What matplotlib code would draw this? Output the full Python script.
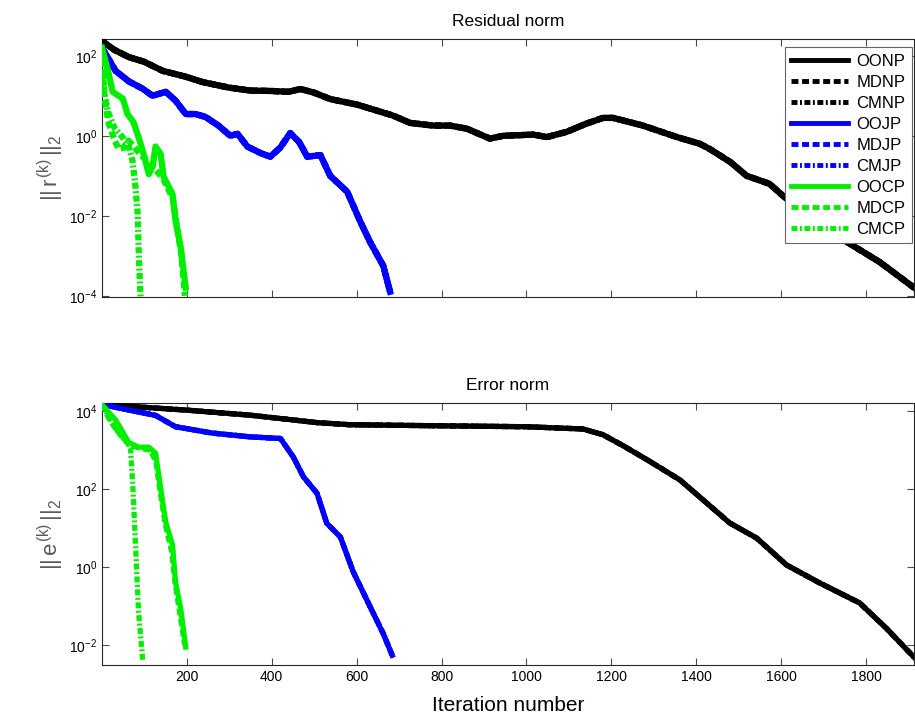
import matplotlib
matplotlib.use("Agg")
from matplotlib import pyplot as plt
from matplotlib.ticker import NullLocator, FixedLocator

plt.rcParams["font.family"] = ["Liberation Sans", "DejaVu Sans"]
plt.rcParams["mathtext.fontset"] = "custom"
plt.rcParams["mathtext.rm"] = "Liberation Sans"
plt.rcParams["mathtext.it"] = "Liberation Sans"
plt.rcParams["lines.scale_dashes"] = False

# Residual norm curves (iteration, value)
res_nn_it = [1, 30, 64, 100, 144, 198, 238, 300, 350, 400, 440, 468, 500, 538,
             602, 686, 726, 780, 820, 860, 914, 945, 1016, 1048, 1095, 1140,
             1180, 1204, 1274, 1354, 1408, 1431, 1480, 1518, 1572, 1603, 1650,
             1700, 1768, 1831, 1912]
res_nn = [234, 141, 93, 71, 42, 30, 22, 16, 13.5, 13.2, 12.6, 14.8, 12, 8.3,
          6.0, 3.2, 2.1, 1.8, 1.8, 1.5, 0.85, 1.0, 1.07, 0.93, 1.26, 2.0,
          2.8, 2.8, 1.8, 0.93, 0.63, 0.47, 0.22, 0.1, 0.063, 0.032, 0.0126,
          0.005, 1.8e-3, 7e-4, 1.6e-4]

res_jp_it = [1, 15, 33, 64, 97, 120, 151, 174, 198, 221, 245, 275, 303, 320,
             343, 374, 397, 420, 444, 465, 484, 515, 538, 578, 609, 632, 663,
             679]
res_jp = [158, 89, 42, 23, 15, 10, 12.6, 7.6, 3.5, 3.5, 2.95, 1.8, 1.0, 1.12,
          0.54, 0.37, 0.3, 0.5, 1.17, 0.7, 0.3, 0.33, 0.1, 0.04, 7.1e-3,
          2.2e-3, 5.6e-4, 1.26e-4]

res_oocp_it = [1, 17, 26, 50, 61, 75, 87, 99, 111, 120, 127, 139, 146, 167,
               174, 186, 198]
res_oocp = [158, 35, 12.6, 8.5, 3.5, 2.2, 0.93, 0.35, 0.11, 0.17, 0.54, 0.35,
            0.095, 0.035, 7.6e-3, 1.7e-3, 1.6e-4]

res_mdcp_it = [1, 5, 8, 17, 30, 40, 52, 63, 75, 90, 120, 146, 167, 178, 188,
               196]
res_mdcp = [158, 16, 7.1, 2.0, 0.8, 0.47, 0.5, 0.76, 0.56, 0.35, 0.18, 0.08,
            0.028, 5e-3, 1e-3, 1e-4]

res_cmcp_it = [1, 6, 15, 30, 50, 65, 73, 80, 85, 88, 92]
res_cmcp = [158, 12.6, 4.0, 1.6, 0.9, 0.5, 0.23, 0.05, 0.011, 7.9e-4, 8e-5]

# Error norm curves (iteration, value)
err_nn_it = [1, 198, 350, 449, 507, 585, 820, 1000, 1133, 1180, 1230, 1290,
             1361, 1408, 1478, 1542, 1612, 1690, 1784, 1847, 1912]
err_nn = [1.48e4, 1.07e4, 7.9e3, 6.0e3, 5.1e3, 4.5e3, 4.2e3, 4.0e3, 3.5e3,
          2.5e3, 1.26e3, 520, 174, 63, 13.8, 5.6, 1.15, 0.4, 0.123, 0.0275,
          5e-3]

err_jp_it = [1, 127, 174, 261, 350, 421, 451, 475, 507, 530, 562, 592, 632,
             663, 684]
err_jp = [1.48e4, 7.8e3, 4.0e3, 2.75e3, 2.2e3, 2.0e3, 676, 209, 79, 13.5, 6.0,
          0.78, 0.098, 0.02, 5.6e-3]

err_oocp_it = [1, 33, 50, 64, 87, 111, 127, 139, 151, 167, 174, 186, 198]
err_oocp = [1.48e4, 6.0e3, 2.9e3, 1.58e3, 1.2e3, 1.2e3, 850, 107, 14.5, 3.7,
            0.42, 0.091, 9.1e-3]

err_mdcp_it = [1, 20, 40, 64, 90, 115, 128, 137, 150, 165, 173, 183, 196]
err_mdcp = [1.48e4, 5.6e3, 2.8e3, 1.4e3, 1.12e3, 1.0e3, 500, 100, 12.6, 2.5,
            0.4, 0.079, 0.01]

err_cmcp_it = [1, 20, 40, 60, 68, 73, 80, 87, 97]
err_cmcp = [1.48e4, 6.3e3, 2.8e3, 1.58e3, 1.17e3, 155, 3.7, 0.072, 4e-3]

labels = ["OONP", "MDNP", "CMNP", "OOJP", "MDJP", "CMJP", "OOCP", "MDCP", "CMCP"]
colors = ["k", "k", "k", "b", "b", "b", "#00ee00", "#00ee00", "#00ee00"]
dashed = (0, (5, 2.6))
dashdot = (0, (4.3, 1.8, 1.4, 1.8))
styles = ["-", dashed, dashdot] * 3

fig = plt.figure(figsize=(9.15, 7.21), dpi=100)
ax1 = fig.add_axes([102 / 915, 1 - 297 / 721, 812 / 915, 258 / 721])
ax2 = fig.add_axes([102 / 915, 1 - 665 / 721, 812 / 915, 262 / 721])

top_series = [(res_nn_it, res_nn), (res_nn_it, res_nn), (res_nn_it, res_nn),
              (res_jp_it, res_jp), (res_jp_it, res_jp), (res_jp_it, res_jp),
              (res_oocp_it, res_oocp), (res_mdcp_it, res_mdcp),
              (res_cmcp_it, res_cmcp)]
bot_series = [(err_nn_it, err_nn), (err_nn_it, err_nn), (err_nn_it, err_nn),
              (err_jp_it, err_jp), (err_jp_it, err_jp), (err_jp_it, err_jp),
              (err_oocp_it, err_oocp), (err_mdcp_it, err_mdcp),
              (err_cmcp_it, err_cmcp)]

for i, (x, y) in enumerate(top_series):
    ax1.semilogy(x, y, color=colors[i], linestyle=styles[i], lw=4.5,
                 label=labels[i], zorder=3 - (i % 3) * 0.1)
for i, (x, y) in enumerate(bot_series):
    ax2.semilogy(x, y, color=colors[i], linestyle=styles[i], lw=3.8,
                 zorder=3 - (i % 3) * 0.1)

ax1.set_ylim(10 ** -4.03, 10 ** 2.42)
ax2.set_ylim(10 ** -2.5, 10 ** 4.21)
ax1.yaxis.set_major_locator(FixedLocator([1e-4, 1e-2, 1, 1e2]))
ax2.yaxis.set_major_locator(FixedLocator([1e-2, 1, 1e2, 1e4]))

for ax in (ax1, ax2):
    ax.set_xlim(1, 1912)
    ax.set_xticks(range(200, 1900, 200))
    ax.yaxis.set_minor_locator(NullLocator())
    ax.tick_params(direction="in", top=True, right=True, length=5,
                   width=0.8, labelsize=10, color="0.3")
    for s in ax.spines.values():
        s.set_linewidth(0.8)
        s.set_color("0.15")

ax1.tick_params(labelbottom=False)

ax1.set_title("Residual norm", fontsize=12.5, pad=9)
ax2.set_title("Error norm", fontsize=12.5, pad=9)
ax2.set_xlabel("Iteration number", fontsize=15, labelpad=9)
ax1.set_ylabel(r"$||\, r^{(k)}\, ||_2$", fontsize=16, color="0.35", labelpad=2)
ax2.set_ylabel(r"$||\, e^{(k)}\, ||_2$", fontsize=16, color="0.35", labelpad=2)

leg = ax1.legend(loc="upper right", bbox_to_anchor=(912 / 915, 1 - 47 / 721),
                 bbox_transform=fig.transFigure, borderaxespad=0,
                 fancybox=False, edgecolor="0.4", framealpha=1, fontsize=12,
                 handlelength=3.4, labelspacing=0.36, borderpad=0.4,
                 handletextpad=0.5)
leg.get_frame().set_linewidth(0.8)
for h in leg.get_lines():
    h.set_linewidth(3.5)

fig.savefig("out.png", dpi=100)
